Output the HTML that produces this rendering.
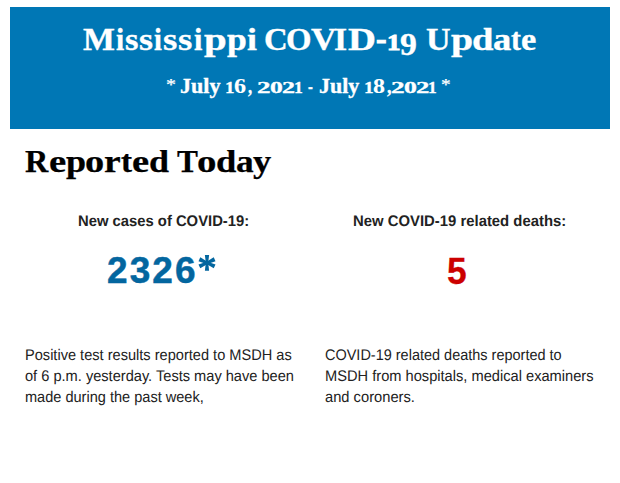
<!DOCTYPE html>
<html>
<head>
<meta charset="utf-8">
<style>
html,body{margin:0;padding:0;background:#fff;}
body{width:620px;height:483px;position:relative;overflow:hidden;font-family:"Liberation Sans",sans-serif;}
#banner{position:absolute;left:10px;top:7px;width:600px;height:122px;background:#0077b5;}
.t{position:absolute;white-space:nowrap;line-height:1.3;transform-origin:0 0;}
.abs{position:absolute;}
</style>
</head>
<body>
<div id="banner"></div>
<div class="t" style="left:83.32px;top:19.00px;font-family:'Liberation Serif',serif;font-weight:bold;font-size:32px;color:#fff;transform:scaleX(1.0558);-webkit-text-stroke:0.35px #fff;">M</div>
<div class="t" style="left:116.00px;top:19.00px;font-family:'Liberation Serif',serif;font-weight:bold;font-size:32px;color:#fff;transform:scaleX(0.9190);-webkit-text-stroke:0.35px #fff;">i</div>
<div class="t" style="left:124.97px;top:19.00px;font-family:'Liberation Serif',serif;font-weight:bold;font-size:32px;color:#fff;transform:scaleX(1.0780);-webkit-text-stroke:0.35px #fff;">s</div>
<div class="t" style="left:139.23px;top:19.00px;font-family:'Liberation Serif',serif;font-weight:bold;font-size:32px;color:#fff;transform:scaleX(1.1221);-webkit-text-stroke:0.35px #fff;">s</div>
<div class="t" style="left:154.00px;top:19.00px;font-family:'Liberation Serif',serif;font-weight:bold;font-size:32px;color:#fff;transform:scaleX(0.8858);-webkit-text-stroke:0.35px #fff;">i</div>
<div class="t" style="left:163.11px;top:19.00px;font-family:'Liberation Serif',serif;font-weight:bold;font-size:32px;color:#fff;transform:scaleX(1.1486);-webkit-text-stroke:0.35px #fff;">s</div>
<div class="t" style="left:178.11px;top:19.00px;font-family:'Liberation Serif',serif;font-weight:bold;font-size:32px;color:#fff;transform:scaleX(1.1486);-webkit-text-stroke:0.35px #fff;">s</div>
<div class="t" style="left:193.50px;top:19.00px;font-family:'Liberation Serif',serif;font-weight:bold;font-size:32px;color:#fff;transform:scaleX(0.9412);-webkit-text-stroke:0.35px #fff;">i</div>
<div class="t" style="left:203.56px;top:19.00px;font-family:'Liberation Serif',serif;font-weight:bold;font-size:32px;color:#fff;transform:scaleX(1.2762);-webkit-text-stroke:0.35px #fff;">p</div>
<div class="t" style="left:227.05px;top:19.00px;font-family:'Liberation Serif',serif;font-weight:bold;font-size:32px;color:#fff;transform:scaleX(1.1123);-webkit-text-stroke:0.35px #fff;">p</div>
<div class="t" style="left:246.80px;top:19.00px;font-family:'Liberation Serif',serif;font-weight:bold;font-size:32px;color:#fff;transform:scaleX(1.1183);-webkit-text-stroke:0.35px #fff;">i</div>
<div class="t" style="left:264.19px;top:19.00px;font-family:'Liberation Serif',serif;font-weight:bold;font-size:32px;color:#fff;transform:scaleX(1.0248);-webkit-text-stroke:0.35px #fff;">C</div>
<div class="t" style="left:286.39px;top:19.00px;font-family:'Liberation Serif',serif;font-weight:bold;font-size:32px;color:#fff;transform:scaleX(1.0252);-webkit-text-stroke:0.35px #fff;">O</div>
<div class="t" style="left:311.05px;top:19.00px;font-family:'Liberation Serif',serif;font-weight:bold;font-size:32px;color:#fff;transform:scaleX(1.0990);-webkit-text-stroke:0.35px #fff;">V</div>
<div class="t" style="left:334.17px;top:19.00px;font-family:'Liberation Serif',serif;font-weight:bold;font-size:32px;color:#fff;transform:scaleX(1.0503);-webkit-text-stroke:0.35px #fff;">I</div>
<div class="t" style="left:347.81px;top:19.00px;font-family:'Liberation Serif',serif;font-weight:bold;font-size:32px;color:#fff;transform:scaleX(1.2104);-webkit-text-stroke:0.35px #fff;">D</div>
<div class="t" style="left:376.41px;top:19.00px;font-family:'Liberation Serif',serif;font-weight:bold;font-size:32px;color:#fff;transform:scaleX(0.9946);-webkit-text-stroke:0.9px #fff;"><span style="position:relative;top:-0.02em">-</span></div>
<div class="t" style="left:387.02px;top:19.00px;font-family:'Liberation Serif',serif;font-weight:bold;font-size:32px;color:#fff;transform:scaleX(1.1630);-webkit-text-stroke:0.35px #fff;"><span style="font-size:0.72em;-webkit-text-stroke:1.0px #fff">1</span></div>
<div class="t" style="left:399.58px;top:19.00px;font-family:'Liberation Serif',serif;font-weight:bold;font-size:32px;color:#fff;transform:scaleX(1.0536);-webkit-text-stroke:0.35px #fff;"><span style="font-size:1.0em;position:relative;top:0.17em">9</span></div>
<div class="t" style="left:426.00px;top:19.00px;font-family:'Liberation Serif',serif;font-weight:bold;font-size:32px;color:#fff;transform:scaleX(1.0647);-webkit-text-stroke:0.35px #fff;">U</div>
<div class="t" style="left:451.15px;top:19.00px;font-family:'Liberation Serif',serif;font-weight:bold;font-size:32px;color:#fff;transform:scaleX(1.2410);-webkit-text-stroke:0.35px #fff;">p</div>
<div class="t" style="left:471.78px;top:19.00px;font-family:'Liberation Serif',serif;font-weight:bold;font-size:32px;color:#fff;transform:scaleX(1.2048);-webkit-text-stroke:0.35px #fff;">d</div>
<div class="t" style="left:493.30px;top:19.00px;font-family:'Liberation Serif',serif;font-weight:bold;font-size:32px;color:#fff;transform:scaleX(1.1412);-webkit-text-stroke:0.35px #fff;">a</div>
<div class="t" style="left:511.01px;top:19.00px;font-family:'Liberation Serif',serif;font-weight:bold;font-size:32px;color:#fff;transform:scaleX(0.9324);-webkit-text-stroke:0.35px #fff;">t</div>
<div class="t" style="left:521.00px;top:19.00px;font-family:'Liberation Serif',serif;font-weight:bold;font-size:32px;color:#fff;transform:scaleX(1.0764);-webkit-text-stroke:0.35px #fff;">e</div>
<div class="t" style="left:166.23px;top:73.00px;font-family:'Liberation Serif',serif;font-weight:bold;font-size:21px;color:#fff;transform:scaleX(1.1798);-webkit-text-stroke:0.35px #fff;"><span style="font-size:0.8em;position:relative;top:-0.2em;font-weight:normal;-webkit-text-stroke:0.25px #fff">*</span></div>
<div class="t" style="left:179.74px;top:73.00px;font-family:'Liberation Serif',serif;font-weight:bold;font-size:21px;color:#fff;transform:scaleX(1.0525);-webkit-text-stroke:0.35px #fff;">July</div>
<div class="t" style="left:224.92px;top:73.00px;font-family:'Liberation Serif',serif;font-weight:bold;font-size:21px;color:#fff;transform:scaleX(1.1895);-webkit-text-stroke:0.35px #fff;"><span style="font-size:0.76em;-webkit-text-stroke:0.3px #fff">1</span></div>
<div class="t" style="left:233.69px;top:73.00px;font-family:'Liberation Serif',serif;font-weight:bold;font-size:21px;color:#fff;transform:scaleX(1.1442);-webkit-text-stroke:0.1px #fff;">6</div>
<div class="t" style="left:247.93px;top:73.00px;font-family:'Liberation Serif',serif;font-weight:bold;font-size:21px;color:#fff;transform:scaleX(0.7889);-webkit-text-stroke:0.35px #fff;">,</div>
<div class="t" style="left:256.75px;top:73.00px;font-family:'Liberation Serif',serif;font-weight:bold;font-size:21px;color:#fff;transform:scaleX(1.6917);-webkit-text-stroke:0.35px #fff;"><span style="font-size:0.76em;-webkit-text-stroke:0.3px #fff">2</span></div>
<div class="t" style="left:270.21px;top:73.00px;font-family:'Liberation Serif',serif;font-weight:bold;font-size:21px;color:#fff;transform:scaleX(1.5989);-webkit-text-stroke:0.35px #fff;"><span style="font-size:0.76em;-webkit-text-stroke:0.3px #fff">0</span></div>
<div class="t" style="left:281.70px;top:73.00px;font-family:'Liberation Serif',serif;font-weight:bold;font-size:21px;color:#fff;transform:scaleX(1.6296);-webkit-text-stroke:0.35px #fff;"><span style="font-size:0.76em;-webkit-text-stroke:0.3px #fff">2</span></div>
<div class="t" style="left:293.70px;top:73.00px;font-family:'Liberation Serif',serif;font-weight:bold;font-size:21px;color:#fff;transform:scaleX(1.1080);-webkit-text-stroke:0.35px #fff;"><span style="font-size:0.76em;-webkit-text-stroke:0.3px #fff">1</span></div>
<div class="t" style="left:308.40px;top:73.00px;font-family:'Liberation Serif',serif;font-weight:bold;font-size:21px;color:#fff;transform:scaleX(0.6846);-webkit-text-stroke:0.35px #fff;">-</div>
<div class="t" style="left:318.95px;top:73.00px;font-family:'Liberation Serif',serif;font-weight:bold;font-size:21px;color:#fff;transform:scaleX(1.0473);-webkit-text-stroke:0.35px #fff;">July</div>
<div class="t" style="left:363.80px;top:73.00px;font-family:'Liberation Serif',serif;font-weight:bold;font-size:21px;color:#fff;transform:scaleX(1.2058);-webkit-text-stroke:0.35px #fff;"><span style="font-size:0.76em;-webkit-text-stroke:0.3px #fff">1</span></div>
<div class="t" style="left:372.91px;top:73.00px;font-family:'Liberation Serif',serif;font-weight:bold;font-size:21px;color:#fff;transform:scaleX(1.1397);-webkit-text-stroke:0.1px #fff;">8</div>
<div class="t" style="left:386.94px;top:73.00px;font-family:'Liberation Serif',serif;font-weight:bold;font-size:21px;color:#fff;transform:scaleX(0.8677);-webkit-text-stroke:0.35px #fff;">,</div>
<div class="t" style="left:391.03px;top:73.00px;font-family:'Liberation Serif',serif;font-weight:bold;font-size:21px;color:#fff;transform:scaleX(1.7072);-webkit-text-stroke:0.35px #fff;"><span style="font-size:0.76em;-webkit-text-stroke:0.3px #fff">2</span></div>
<div class="t" style="left:404.21px;top:73.00px;font-family:'Liberation Serif',serif;font-weight:bold;font-size:21px;color:#fff;transform:scaleX(1.6125);-webkit-text-stroke:0.35px #fff;"><span style="font-size:0.76em;-webkit-text-stroke:0.3px #fff">0</span></div>
<div class="t" style="left:415.76px;top:73.00px;font-family:'Liberation Serif',serif;font-weight:bold;font-size:21px;color:#fff;transform:scaleX(1.6762);-webkit-text-stroke:0.35px #fff;"><span style="font-size:0.76em;-webkit-text-stroke:0.3px #fff">2</span></div>
<div class="t" style="left:427.82px;top:73.00px;font-family:'Liberation Serif',serif;font-weight:bold;font-size:21px;color:#fff;transform:scaleX(1.0917);-webkit-text-stroke:0.35px #fff;"><span style="font-size:0.76em;-webkit-text-stroke:0.3px #fff">1</span></div>
<div class="t" style="left:441.06px;top:73.00px;font-family:'Liberation Serif',serif;font-weight:bold;font-size:21px;color:#fff;transform:scaleX(1.1484);-webkit-text-stroke:0.35px #fff;"><span style="font-size:0.8em;position:relative;top:-0.2em;font-weight:normal;-webkit-text-stroke:0.25px #fff">*</span></div>
<div class="t" style="left:24.91px;top:143.00px;font-family:'Liberation Serif',serif;font-weight:bold;font-size:30.5px;color:#000;transform:scaleX(1.0556);-webkit-text-stroke:0.25px #000;">R</div>
<div class="t" style="left:48.62px;top:143.00px;font-family:'Liberation Serif',serif;font-weight:bold;font-size:30.5px;color:#000;transform:scaleX(1.2717);-webkit-text-stroke:0.25px #000;">e</div>
<div class="t" style="left:65.75px;top:143.00px;font-family:'Liberation Serif',serif;font-weight:bold;font-size:30.5px;color:#000;transform:scaleX(1.1830);-webkit-text-stroke:0.25px #000;">p</div>
<div class="t" style="left:85.48px;top:143.00px;font-family:'Liberation Serif',serif;font-weight:bold;font-size:30.5px;color:#000;transform:scaleX(1.2582);-webkit-text-stroke:0.25px #000;">o</div>
<div class="t" style="left:104.41px;top:143.00px;font-family:'Liberation Serif',serif;font-weight:bold;font-size:30.5px;color:#000;transform:scaleX(1.2325);-webkit-text-stroke:0.25px #000;">r</div>
<div class="t" style="left:120.71px;top:143.00px;font-family:'Liberation Serif',serif;font-weight:bold;font-size:30.5px;color:#000;transform:scaleX(1.0863);-webkit-text-stroke:0.25px #000;">t</div>
<div class="t" style="left:132.03px;top:143.00px;font-family:'Liberation Serif',serif;font-weight:bold;font-size:30.5px;color:#000;transform:scaleX(1.2636);-webkit-text-stroke:0.25px #000;">e</div>
<div class="t" style="left:148.90px;top:143.00px;font-family:'Liberation Serif',serif;font-weight:bold;font-size:30.5px;color:#000;transform:scaleX(1.1785);-webkit-text-stroke:0.25px #000;">d</div>
<div class="t" style="left:176.51px;top:143.00px;font-family:'Liberation Serif',serif;font-weight:bold;font-size:30.5px;color:#000;transform:scaleX(1.0283);-webkit-text-stroke:0.25px #000;">T</div>
<div class="t" style="left:196.87px;top:143.00px;font-family:'Liberation Serif',serif;font-weight:bold;font-size:30.5px;color:#000;transform:scaleX(1.2731);-webkit-text-stroke:0.25px #000;">o</div>
<div class="t" style="left:215.78px;top:143.00px;font-family:'Liberation Serif',serif;font-weight:bold;font-size:30.5px;color:#000;transform:scaleX(1.1972);-webkit-text-stroke:0.25px #000;">d</div>
<div class="t" style="left:236.04px;top:143.00px;font-family:'Liberation Serif',serif;font-weight:bold;font-size:30.5px;color:#000;transform:scaleX(1.1591);-webkit-text-stroke:0.25px #000;">a</div>
<div class="t" style="left:253.18px;top:143.00px;font-family:'Liberation Serif',serif;font-weight:bold;font-size:30.5px;color:#000;transform:scaleX(1.1932);-webkit-text-stroke:0.25px #000;">y</div>
<div class="t" style="left:78.32px;top:212.00px;font-family:'Liberation Sans',sans-serif;font-weight:bold;font-size:15.4px;color:#222;transform:scaleX(0.9620);text-rendering:geometricPrecision;">New cases of COVID-19:</div>
<div class="t" style="left:353.42px;top:212.00px;font-family:'Liberation Sans',sans-serif;font-weight:bold;font-size:15.4px;color:#222;transform:scaleX(0.9663);text-rendering:geometricPrecision;">New COVID-19 related deaths:</div>
<div class="t" style="left:107.11px;top:247.00px;font-family:'Liberation Sans',sans-serif;font-weight:bold;font-size:36.5px;color:#03669f;transform:scaleX(1.0125);-webkit-text-stroke:0.5px #03669f;letter-spacing:2.1px;">2326</div>
<div class="t" style="left:447.31px;top:248.00px;font-family:'Liberation Sans',sans-serif;font-weight:bold;font-size:36.3px;color:#cc0000;transform:scaleX(0.9729);-webkit-text-stroke:0.3px #cc0000;">5</div>
<div class="t" style="left:25.19px;top:346.00px;font-family:'Liberation Sans',sans-serif;font-weight:normal;font-size:15.4px;color:#222;transform:scaleX(0.9477);text-rendering:geometricPrecision;">Positive test results reported to MSDH as</div>
<div class="t" style="left:24.85px;top:367.00px;font-family:'Liberation Sans',sans-serif;font-weight:normal;font-size:15.4px;color:#222;transform:scaleX(0.9489);text-rendering:geometricPrecision;">of 6 p.m. yesterday. Tests may have been</div>
<div class="t" style="left:24.84px;top:388.00px;font-family:'Liberation Sans',sans-serif;font-weight:normal;font-size:15.4px;color:#222;transform:scaleX(0.9454);text-rendering:geometricPrecision;">made during the past week,</div>
<div class="t" style="left:325.08px;top:346.00px;font-family:'Liberation Sans',sans-serif;font-weight:normal;font-size:15.4px;color:#222;transform:scaleX(0.9407);text-rendering:geometricPrecision;">COVID-19 related deaths reported to</div>
<div class="t" style="left:325.18px;top:367.00px;font-family:'Liberation Sans',sans-serif;font-weight:normal;font-size:15.4px;color:#222;transform:scaleX(0.9514);text-rendering:geometricPrecision;">MSDH from hospitals, medical examiners</div>
<div class="t" style="left:324.92px;top:388.00px;font-family:'Liberation Sans',sans-serif;font-weight:normal;font-size:15.4px;color:#222;transform:scaleX(0.9554);text-rendering:geometricPrecision;">and coroners.</div>
<svg class="abs" id="n1a" style="left:0;top:0" width="620" height="483" viewBox="0 0 620 483"><g fill="#03669f"><polygon points="208.20,262.80 209.10,254.90 204.90,254.90 205.80,262.80"/><polygon points="205.80,262.80 204.90,270.70 209.10,270.70 208.20,262.80"/><polygon points="207.51,263.89 215.50,261.15 213.73,257.35 206.49,261.71"/><polygon points="206.49,263.89 213.73,268.25 215.50,264.45 207.51,261.71"/><polygon points="207.51,261.71 200.27,257.35 198.50,261.15 206.49,263.89"/><polygon points="206.49,261.71 198.50,264.45 200.27,268.25 207.51,263.89"/><circle cx="207.0" cy="262.8" r="1.8"/></g></svg>
</body>
</html>
